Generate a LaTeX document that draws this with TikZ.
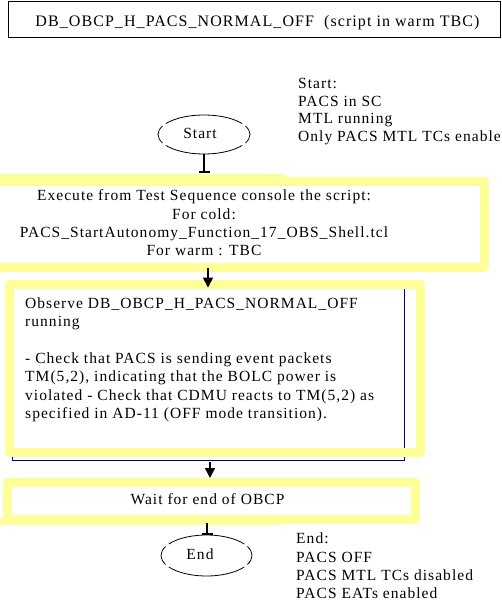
\documentclass[tikz,border=0pt]{standalone}
\usepackage{fontspec}
\setmainfont{Liberation Serif}[LetterSpace=6.7]
\usetikzlibrary{arrows.meta,shapes.geometric}
\definecolor{hilite}{RGB}{255,255,153}
\definecolor{frameblue}{RGB}{0,0,128}
\begin{document}
\begin{tikzpicture}[x=1pt, y=-1pt,
  txt/.style={font=\fontsize{15.5pt}{18.3pt}\selectfont, inner sep=0pt},
  notetxt/.style={font=\fontsize{15.5pt}{17.6pt}\selectfont, inner sep=0pt, align=left},
  headtxt/.style={font=\fontsize{16pt}{18pt}\selectfont, inner sep=0pt},
  hlbox/.style={draw=hilite, line width=9pt, line join=round, inner sep=0pt},
  hlfill/.style={fill=hilite, draw=none},
  ellpart/.style={line width=0.8pt},
  flow/.style={line width=1.5pt, -{Triangle[length=10pt,width=10pt]}},
  stub/.style={line width=1.5pt, -{Bar[width=11pt,line width=2pt]}},
  ellnode/.style={ellipse, draw=none, inner sep=0pt},
]
\useasboundingbox (0,0) rectangle (502,610);

% header
\node[draw, line width=0.8pt, minimum width=492pt, minimum height=36pt, inner sep=0pt] (title) at (254,19) {};
\node[headtxt, anchor=base] (titletext) at (257.5,27) {DB\_OBCP\_H\_PACS\_NORMAL\_OFF\ \ (script in warm TBC)};

% start terminal and its note
\node[ellnode, minimum width=92pt, minimum height=39pt] (startell) at (204,134.5) {};
\foreach \a/\b in {34/146,154/206,214/326,334/386}
  \draw[ellpart] ([shift={(\a:46 and 19.5)}]startell.center) arc[start angle=\a, end angle=\b, x radius=46, y radius=19.5];
\node[txt, anchor=base] (starttxt) at (200,138.5) {Start};
\node[notetxt, anchor=north west] (startnote) at (298,78) {Start:\\PACS in SC\\MTL running\\Only PACS MTL TCs enabled};

% execute step
\node[hlbox, minimum width=494.5pt, minimum height=86pt] (exec) at (237.25,224) {};
\fill[hlfill] (0,174) rectangle (285,181);
\node[txt, align=center, anchor=north] (exectxt) at (204,189.7) {Execute from Test Sequence console the script:\\For cold:\\PACS\_StartAutonomy\_Function\_17\_OBS\_Shell.tcl\\For warm : TBC};

% observe step
\node[draw=frameblue, line width=0.9pt, minimum width=392pt, minimum height=172pt, inner sep=0pt] (obsframe) at (208,374) {};
\node[hlbox, minimum width=411pt, minimum height=168pt] (obs) at (214.5,368) {};
\node[txt, align=left, anchor=north west] (obstxt) at (25,297.7) {Observe DB\_OBCP\_H\_PACS\_NORMAL\_OFF\\running\\[18.3pt]- Check that PACS is sending event packets\\TM(5,2), indicating that the BOLC power is\\violated - Check that CDMU reacts to TM(5,2) as\\specified in AD-11 (OFF mode transition).};

% wait step
\node[hlbox, minimum width=408pt, minimum height=37pt] (wait) at (211,501) {};
\fill[hlfill] (0,519) rectangle (283,525);
\node[txt, anchor=base] (waittxt) at (207.5,504) {Wait for end of OBCP};

% end terminal and its note
\node[ellnode, minimum width=91pt, minimum height=41pt] (endell) at (206.5,555.5) {};
\foreach \a/\b in {34/146,154/206,214/326,334/386}
  \draw[ellpart] ([shift={(\a:45.5 and 20.5)}]endell.center) arc[start angle=\a, end angle=\b, x radius=45.5, y radius=20.5];
\node[txt, anchor=base] (endtxt) at (200,559) {End};
\node[txt, align=left, anchor=north west] (endnote) at (296,532.8) {End:\\PACS OFF\\PACS MTL TCs disabled\\PACS EATs enabled};

% connectors
\coordinate (s1end) at (204,173);
\coordinate (colA) at (208,0);
\coordinate (colB) at (210,0);
\coordinate (colC) at (207,0);
\draw[stub] (startell.south) -- (s1end);
\draw[flow, shorten <=-4pt] (colA |- exec.south) -- (colA |- obsframe.north);
\draw[flow, shorten <=2pt] (colB |- obsframe.south) -- (colB |- wait.north);
\draw[stub, shorten <=-1pt] (colC |- wait.south) -- (colC |- endell.north);
\end{tikzpicture}
\end{document}
